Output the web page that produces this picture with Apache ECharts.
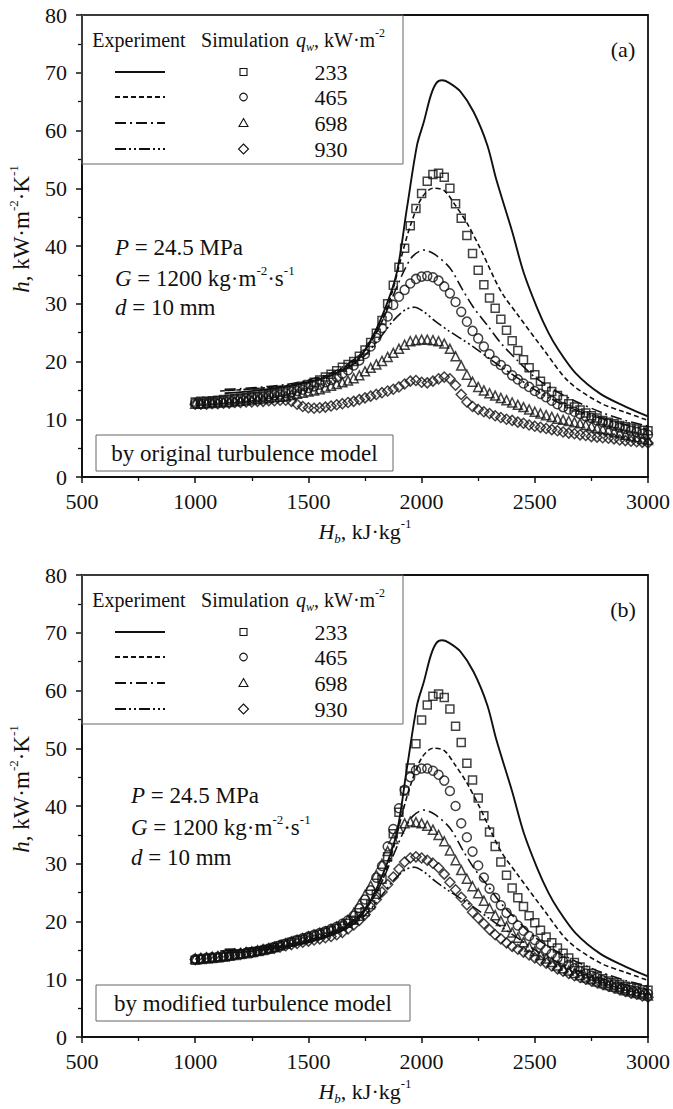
<!DOCTYPE html>
<html><head><meta charset="utf-8">
<script src="https://cdn.jsdelivr.net/npm/echarts@6/dist/echarts.min.js"></script>
<style>html,body{margin:0;padding:0;background:#fff}#c{width:673px;height:1109px}</style>
</head><body><div id="c"></div>
<script>
// ---------- tick labels ----------
const xTicks = [500, 1000, 1500, 2000, 2500, 3000];
const yTicks = [0, 10, 20, 30, 40, 50, 60, 70, 80];
const heatFluxes = ['233', '465', '698', '930'];

// ---------- experiment curves (same in both panels) ----------
const exp233H = [1130,1200,1300,1400,1500,1600,1700,1760,1830,1890,1935,1980,2010,2040,2065,2090,2120,2170,2230,2290,2330,2400,2450,2510,2560,2600,2680,2790,2900,3000];
const exp233  = [14.5,14.7,15.1,15.6,16.4,17.6,19.6,22.6,28.3,35.3,46.5,57.5,61.5,66.0,68.2,68.7,68.3,66.8,63.2,57.5,51.5,42.5,35.5,29.3,25.0,22.3,18.0,14.4,12.2,10.5];
const exp465H = [1110,1200,1300,1400,1500,1600,1700,1760,1820,1870,1910,1950,2000,2050,2100,2150,2200,2260,2350,2430,2540,2650,2790,2900,3000];
const exp465  = [14.9,15.1,15.4,15.8,16.6,17.9,20.0,22.5,26.5,32.0,38.0,43.5,48.3,50.0,49.6,47.0,44.0,39.5,32.2,27.8,22.0,16.5,12.8,11.2,9.8];
const exp698H = [1130,1200,1300,1400,1500,1600,1700,1760,1820,1870,1920,1960,2010,2060,2125,2180,2230,2290,2350,2420,2500,2580,2670,2800,2900,3000];
const exp698  = [15.2,15.3,15.6,16.0,16.8,18.0,20.3,22.5,26.5,31.0,35.5,38.2,39.3,38.5,36.2,32.5,29.3,26.3,23.2,20.3,17.3,15.2,13.3,11.1,9.8,8.8];
const exp930H = [1130,1200,1300,1400,1500,1600,1700,1760,1820,1880,1930,1970,2010,2060,2120,2180,2230,2300,2350,2430,2520,2600,2700,2850,3000];
const exp930  = [15.0,15.1,15.4,15.8,16.5,17.6,19.5,21.5,24.3,27.3,29.0,29.4,28.6,27.0,25.3,23.8,22.5,20.5,19.1,17.0,14.6,13.0,11.3,9.5,8.2];

// ---------- simulation points (H_b positions) ----------
const simH = [1000,1025,1050,1075,1100,1125,1150,1175,1200,1225,
              1250,1275,1300,1325,1350,1375,1400,1425,1450,1475,
              1500,1525,1550,1575,1600,1625,1650,1675,1700,1725,
              1750,1775,1800,1825,1850,1875,1900,1925,1950,1975,
              2000,2025,2050,2075,2100,2125,2150,2175,2200,2225,
              2250,2275,2300,2325,2350,2375,2400,2425,2450,2475,
              2500,2525,2550,2575,2600,2625,2650,2675,2700,2725,
              2750,2775,2800,2825,2850,2875,2900,2925,2950,2975,
              3000];

// (a) original turbulence model
const simA233 = [13.0,13.1,13.1,13.2,13.3,13.4,13.5,13.6,13.7,13.8,
                 13.9,14.0,14.2,14.3,14.5,14.7,14.9,15.1,15.4,15.7,
                 16.0,16.4,16.8,17.3,17.8,18.4,19.0,19.5,20.0,20.9,
                 22.0,23.3,24.9,27.1,30.0,33.2,36.3,39.6,43.5,46.5,
                 49.1,51.2,52.4,52.6,51.9,50.0,47.3,44.8,41.8,38.7,
                 35.8,33.3,31.0,29.2,27.3,25.4,23.6,21.9,20.3,18.9,
                 17.7,16.6,15.6,14.8,14.1,13.4,12.7,12.1,11.6,11.1,
                 10.6,10.2,9.8,9.5,9.2,8.9,8.7,8.5,8.3,8.1,
                 8.0];
const simA465 = [12.8,12.8,12.9,13.0,13.1,13.2,13.3,13.4,13.5,13.6,
                 13.7,13.8,13.9,14.0,14.2,14.3,14.5,14.7,14.9,15.1,
                 15.4,15.7,16.0,16.4,16.8,17.3,17.9,18.5,19.3,20.2,
                 21.3,22.6,24.1,25.8,27.8,29.8,31.2,32.4,33.5,34.3,
                 34.7,34.8,34.6,34.0,33.0,31.8,30.3,28.6,26.9,25.3,
                 24.0,22.6,21.3,20.1,19.4,18.6,17.6,16.9,16.2,15.6,
                 14.9,14.4,13.8,13.2,12.6,12.1,11.7,11.3,10.9,10.5,
                 10.2,9.8,9.5,9.2,8.9,8.6,8.3,8.0,7.8,7.5,
                 7.3];
const simA698 = [12.7,12.7,12.8,12.8,12.9,13.0,13.0,13.1,13.2,13.3,
                 13.4,13.5,13.6,13.7,13.8,13.9,14.0,14.2,14.4,14.6,
                 14.8,15.0,15.2,15.5,15.8,16.1,16.4,16.7,17.1,17.6,
                 18.3,18.9,19.5,20.1,20.8,21.5,22.2,22.9,23.5,23.7,
                 23.8,23.8,23.7,23.5,23.1,22.2,20.9,19.3,17.7,16.5,
                 15.6,15.0,14.5,14.1,13.7,13.3,12.9,12.5,12.1,11.7,
                 11.3,11.0,10.7,10.4,10.1,9.9,9.7,9.5,9.3,9.0,
                 8.8,8.5,8.3,8.1,7.8,7.6,7.3,7.1,6.9,6.6,
                 6.4];
const simA930 = [12.6,12.6,12.6,12.7,12.7,12.8,12.8,12.9,12.9,13.0,
                 13.0,13.1,13.1,13.2,13.2,13.3,13.3,13.1,12.6,12.2,
                 12.0,11.9,12.0,12.1,12.3,12.5,12.7,12.9,13.1,13.4,
                 13.7,14.0,14.3,14.6,14.9,15.2,15.6,16.1,16.6,16.7,
                 16.4,16.3,16.6,17.0,17.3,17.0,15.9,14.3,13.0,12.2,
                 11.7,11.3,11.0,10.6,10.3,10.0,9.8,9.5,9.3,9.0,
                 8.8,8.6,8.4,8.2,8.0,7.8,7.6,7.5,7.3,7.2,
                 7.0,6.9,6.8,6.7,6.6,6.4,6.3,6.2,6.1,6.0,
                 5.9];

// (b) modified turbulence model
const simB233 = [13.3,13.4,13.5,13.6,13.7,13.8,14.0,14.1,14.3,14.4,
                 14.6,14.8,15.0,15.2,15.5,15.8,16.1,16.4,16.7,16.9,
                 17.2,17.5,17.8,18.1,18.4,18.8,19.2,19.7,20.2,20.9,
                 21.7,22.9,24.7,27.3,31.2,35.2,38.9,42.6,46.6,50.8,
                 54.9,57.5,59.0,59.4,58.8,56.8,53.8,51.0,47.4,44.5,
                 41.4,38.3,35.5,33.0,30.3,28.0,25.8,24.1,22.6,21.0,
                 19.8,18.5,17.3,16.3,15.4,14.5,13.7,12.9,12.1,11.5,
                 11.0,10.5,10.1,9.7,9.4,9.1,8.8,8.6,8.4,8.2,
                 8.1];
const simB465 = [13.5,13.6,13.7,13.8,13.9,14.0,14.1,14.3,14.4,14.6,
                 14.7,14.9,15.1,15.3,15.6,15.9,16.2,16.5,16.8,17.1,
                 17.4,17.7,18.0,18.3,18.7,19.1,19.6,20.2,21.0,22.3,
                 23.8,25.4,27.6,29.6,33.0,36.0,39.6,42.8,45.0,46.2,
                 46.5,46.5,46.1,45.4,44.4,42.6,40.0,37.0,34.6,32.1,
                 29.7,27.6,25.7,24.1,22.8,21.5,20.4,19.3,18.4,17.5,
                 16.8,16.0,15.1,14.4,13.7,13.1,12.5,11.9,11.4,11.0,
                 10.6,10.2,9.8,9.4,9.1,8.7,8.4,8.1,7.9,7.7,
                 7.5];
const simB698 = [13.6,13.7,13.8,13.9,14.0,14.1,14.2,14.4,14.5,14.7,
                 14.8,15.0,15.2,15.4,15.6,15.9,16.2,16.5,16.8,17.1,
                 17.4,17.7,18.0,18.3,18.7,19.1,19.6,20.3,21.5,23.0,
                 24.6,26.2,28.1,30.0,32.2,34.3,36.1,37.0,37.3,37.2,
                 37.0,36.6,35.9,35.0,33.9,32.3,30.6,28.9,27.4,26.1,
                 24.9,23.6,22.3,21.1,20.1,19.1,18.1,17.2,16.4,15.6,
                 14.9,14.2,13.6,13.0,12.4,11.9,11.5,11.1,10.7,10.3,
                 10.0,9.6,9.3,9.0,8.7,8.4,8.1,7.9,7.6,7.4,
                 7.2];
const simB930 = [13.4,13.5,13.6,13.7,13.8,13.9,14.0,14.2,14.3,14.5,
                 14.6,14.8,15.0,15.2,15.4,15.6,15.8,16.0,16.2,16.4,
                 16.6,16.8,17.0,17.2,17.4,17.7,18.1,18.7,19.4,20.2,
                 21.2,22.5,23.8,25.1,26.4,27.7,29.1,30.3,31.0,31.2,
                 31.0,30.6,30.1,29.3,28.2,26.8,25.5,24.2,22.9,21.6,
                 20.6,19.6,18.6,17.7,17.0,16.3,15.7,15.2,14.7,14.2,
                 13.7,13.2,12.8,12.3,11.8,11.4,11.0,10.6,10.3,10.0,
                 9.7,9.4,9.1,8.8,8.5,8.2,7.9,7.6,7.4,7.1,
                 6.9];

// ---------- rendering ----------
const FONT = 'Liberation Serif';
const INK = '#111';
const PLOT_L = 82, PLOT_W = 566, PLOT_H = 462;
const PANEL_TOP = [15, 575];

const expSets = [[exp233H, exp233], [exp465H, exp465], [exp698H, exp698], [exp930H, exp930]];
const simSets = [[simA233, simA465, simA698, simA930], [simB233, simB465, simB698, simB930]];
const dashes = ['solid', [5, 3], [11, 4, 2, 4], [11, 3, 2, 3, 2, 3]];
const symbols = ['rect', 'circle', 'triangle', 'diamond'];
const symSizes = [8, 9, 9, 10];

function pairs(xs, ys) { return xs.map((x, i) => [x, ys[i]]); }

function rich(size) {
  const s = Math.round(size * 0.58);
  return {
    n: {fontFamily: FONT, fontSize: size, lineHeight: size + 6, color: INK},
    i: {fontFamily: FONT, fontSize: size, lineHeight: size + 6, color: INK, fontStyle: 'italic'},
    sup: {fontFamily: FONT, fontSize: s, lineHeight: s, color: INK, verticalAlign: 'top'},
    sub: {fontFamily: FONT, fontSize: s, lineHeight: s, color: INK, verticalAlign: 'bottom'},
    isub: {fontFamily: FONT, fontSize: s, lineHeight: s, color: INK, fontStyle: 'italic', verticalAlign: 'bottom'}
  };
}

function txt(x, y, text, size, align, rot) {
  const el = {
    type: 'text', x: x, y: y, z: 100,
    style: {text: text, rich: rich(size), fontFamily: FONT, fontSize: size, fill: INK,
            align: align || 'left', verticalAlign: 'middle',
            textAlign: align || 'left', textVerticalAlign: 'middle'}
  };
  if (rot) el.rotation = rot;
  return el;
}

function panelGraphics(p) {
  const T = PANEL_TOP[p];
  const g = [];
  // legend table
  g.push({type: 'rect', z: 100, shape: {x: PLOT_L, y: T, width: 321, height: 149},
          style: {fill: 'none', stroke: '#666', lineWidth: 1}});
  g.push(txt(139, T + 25, '{n|Experiment}', 20, 'center'));
  g.push(txt(245, T + 25, '{n|Simulation}', 20, 'center'));
  g.push(txt(296, T + 25, '{i|q}{isub|w}{n|, kW·m}{sup|-2}', 20, 'left'));
  const rowY = [57, 82, 108, 134];
  for (let k = 0; k < 4; k++) {
    const y = T + rowY[k];
    g.push({type: 'line', z: 100, shape: {x1: 115, y1: y, x2: 165, y2: y},
            style: {stroke: INK, lineWidth: k === 0 ? 2 : 1.8, lineDash: k === 0 ? null : dashes[k]}});
    const st = {fill: 'none', stroke: INK, lineWidth: 1.1};
    if (k === 0) g.push({type: 'rect', z: 100, shape: {x: 240, y: y - 3.5, width: 7, height: 7}, style: st});
    if (k === 1) g.push({type: 'circle', z: 100, shape: {cx: 243.5, cy: y, r: 3.8}, style: st});
    if (k === 2) g.push({type: 'polygon', z: 100, shape: {points: [[243.5, y - 4.5], [248, y + 3.5], [239, y + 3.5]]}, style: st});
    if (k === 3) g.push({type: 'polygon', z: 100, shape: {points: [[243.5, y - 5], [248.5, y], [243.5, y + 5], [238.5, y]]}, style: st});
    g.push(txt(331, y, '{n|' + heatFluxes[k] + '}', 22, 'center'));
  }
  // panel letter
  g.push(txt(623, T + 34, '{n|' + (p === 0 ? '(a)' : '(b)') + '}', 22, 'center'));
  // parameters
  const px = p === 0 ? 115 : 131;
  const py = p === 0 ? [232, 263, 292] : [220, 252, 282];
  g.push(txt(px, T + py[0], '{i|P}{n| = 24.5 MPa}', 23, 'left'));
  g.push(txt(px, T + py[1], '{i|G}{n| = 1200 kg·m}{sup|-2}{n|·s}{sup|-1}', 23, 'left'));
  g.push(txt(px, T + py[2], '{i|d}{n| = 10 mm}', 23, 'left'));
  // model label box
  const bw = p === 0 ? 297 : 314;
  const by = p === 0 ? 420 : 410;
  g.push({type: 'rect', z: 100, shape: {x: 96, y: T + by, width: bw, height: 36},
          style: {fill: '#fff', stroke: '#666', lineWidth: 1}});
  g.push(txt(96 + bw / 2, T + by + 18, '{n|' + (p === 0 ? 'by original turbulence model' : 'by modified turbulence model') + '}', 23, 'center'));
  // axis titles
  g.push(txt(21, T + 214, '{i|h}{n|, kW·m}{sup|-2}{n|·K}{sup|-1}', 23, 'center', Math.PI / 2));
  g.push(txt(365, T + 516, '{i|H}{isub|b}{n|, kJ·kg}{sup|-1}', 22, 'center'));
  return g;
}

const grids = [], xAxes = [], yAxes = [], series = [];
for (let p = 0; p < 2; p++) {
  grids.push({left: PLOT_L, top: PANEL_TOP[p], width: PLOT_W, height: PLOT_H,
              show: true, borderColor: INK, borderWidth: 1.8, backgroundColor: 'transparent'});
  const common = {
    gridIndex: p, type: 'value',
    axisLine: {show: true, onZero: false, lineStyle: {color: INK, width: 1.8}},
    axisTick: {show: true, inside: false, length: 6, lineStyle: {color: INK, width: 1.5}},
    minorTick: {show: true, splitNumber: 2, length: 4, lineStyle: {color: INK, width: 1.3}},
    splitLine: {show: false}, minorSplitLine: {show: false},
    axisLabel: {color: INK, fontFamily: FONT, fontSize: 22, formatter: v => String(v)}
  };
  xAxes.push(Object.assign({}, common, {min: xTicks[0], max: xTicks[xTicks.length - 1], interval: xTicks[1] - xTicks[0],
    axisLabel: Object.assign({}, common.axisLabel, {margin: 13})}));
  yAxes.push(Object.assign({}, common, {min: yTicks[0], max: yTicks[yTicks.length - 1], interval: yTicks[1] - yTicks[0],
    axisLabel: Object.assign({}, common.axisLabel, {margin: 15})}));
  for (let k = 0; k < 4; k++) {
    series.push({
      type: 'line', xAxisIndex: p, yAxisIndex: p, name: 'exp' + heatFluxes[k],
      data: pairs(expSets[k][0], expSets[k][1]),
      smooth: 0.3, showSymbol: false, symbol: 'none', z: 2,
      lineStyle: {color: INK, width: k === 0 ? 1.9 : 1.6, type: dashes[k]},
      emphasis: {disabled: true}
    });
  }
  for (let k = 0; k < 4; k++) {
    series.push({
      type: 'scatter', xAxisIndex: p, yAxisIndex: p, name: 'sim' + heatFluxes[k],
      data: pairs(simH, simSets[p][k]),
      symbol: symbols[k], symbolSize: symSizes[k], z: 3,
      itemStyle: {color: 'rgba(0,0,0,0)', borderColor: INK, borderWidth: 1.5},
      emphasis: {disabled: true}
    });
  }
}

const chart = echarts.init(document.getElementById('c'), null, {renderer: 'svg'});
chart.setOption({
  animation: false,
  backgroundColor: '#fff',
  grid: grids, xAxis: xAxes, yAxis: yAxes, series: series,
  graphic: {elements: panelGraphics(0).concat(panelGraphics(1))}
});
</script></body></html>
